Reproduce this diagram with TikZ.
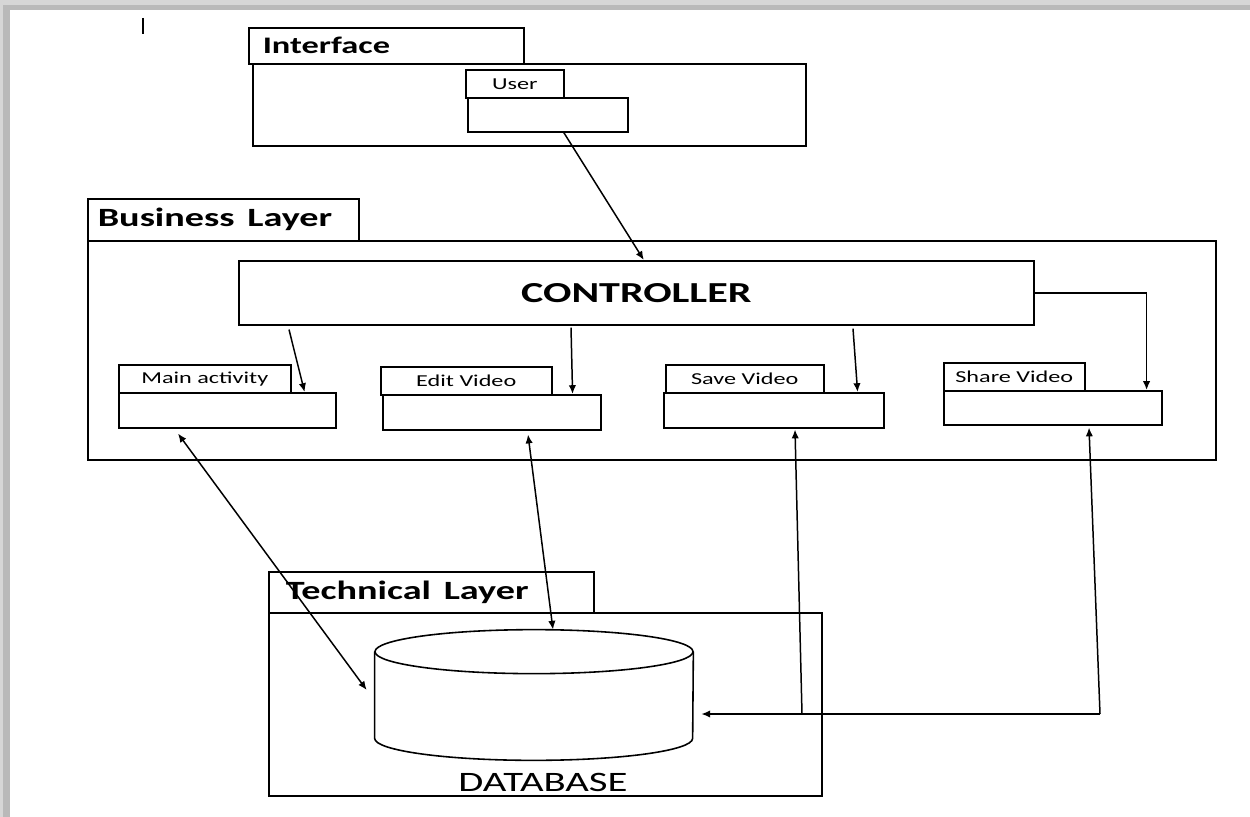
\documentclass[tikz,border=0pt]{standalone}
\usepackage{fontspec}
\setmainfont{Carlito}
\usepackage{graphicx}
\usetikzlibrary{arrows.meta,positioning}
\definecolor{edge1}{RGB}{214,214,214}
\definecolor{edge2}{RGB}{185,185,185}
\newdimen\pu \pu=0.02cm
\newcommand{\wide}[1]{\scalebox{1.45}[1]{#1}}
\tikzstyle{panel}=[draw, line width=0.9pt, anchor=north west, inner sep=0pt]
\tikzstyle{tab}=[panel, align=left, inner ysep=0pt, font=\fontsize{15}{18}\selectfont\bfseries]
\tikzstyle{subtab}=[panel, font=\fontsize{9.5}{11}\selectfont]
\tikzstyle{link}=[line width=0.85pt]
\begin{document}
\begin{tikzpicture}[>={Latex[length=5pt,width=4.2pt]}, x=0.02cm, y=-0.02cm]
    % page with its shadow
    \fill[edge1] (0,0) rectangle (1250,817);
    \fill[edge2] (3,5) rectangle (1250,817);
    \fill[white] (10,10) rectangle (1250,817);
    \useasboundingbox (0,0) rectangle (1250,817);
    \draw[line width=1.2pt] (143,18) -- (143,34);

    % interface
    \node [panel, minimum width=553\pu, minimum height=82\pu] (ifc) at (252,63) {};
    \node [tab, inner xsep=14\pu, text width=247\pu, minimum height=36\pu, font=\fontsize{13.5}{16}\selectfont\bfseries] (ifctab) at (248,27) {\wide{Interface}};
    \node [subtab, minimum width=98\pu, minimum height=28\pu] (usertab) at (465,69) {\wide{User}};
    \node [panel, minimum width=160\pu, minimum height=34\pu] (user) at (467,97) {};

    % business layer
    \node [panel, minimum width=1128\pu, minimum height=219\pu] (biz) at (87,240) {};
    \node [tab, inner xsep=10\pu, text width=251\pu, minimum height=42\pu] (biztab) at (87,198) {\wide{Business Layer}};
    \node [panel, minimum width=795\pu, minimum height=64\pu, font=\fontsize{16.5}{20}\selectfont\bfseries] (ctrl) at (238,260) {\wide{CONTROLLER}};
    \node [subtab, minimum width=172\pu, minimum height=28\pu] (maintab) at (118,364) {\wide{Main activity}};
    \node [panel, minimum width=217\pu, minimum height=35\pu] (main) at (118,392) {};
    \node [subtab, minimum width=171\pu, minimum height=28\pu] (edittab) at (380,366) {\wide{Edit Video}};
    \node [panel, minimum width=218\pu, minimum height=35\pu] (edit) at (382,394) {};
    \node [subtab, minimum width=158\pu, minimum height=28\pu] (savetab) at (665,364) {\wide{Save Video}};
    \node [panel, minimum width=220\pu, minimum height=35\pu] (save) at (663,392) {};
    \node [subtab, minimum width=141\pu, minimum height=28\pu] (sharetab) at (943,362) {\wide{Share Video}};
    \node [panel, minimum width=218\pu, minimum height=34\pu] (share) at (943,390) {};

    % technical layer
    \node [panel, minimum width=553\pu, minimum height=183\pu] (tech) at (268,612) {};
    \node [tab, inner xsep=17\pu, text width=291\pu, minimum height=41\pu] (techtab) at (268,571) {\wide{Technical Layer}};
    \node [minimum width=318\pu, minimum height=130\pu, inner sep=0pt] (db) at (534,695) {};
    \draw[line width=0.9pt] ([yshift=-22\pu]db.north) ellipse [x radius=159\pu, y radius=22\pu];
    \draw[line width=0.9pt] ([yshift=-22\pu]db.north west) -- ([yshift=22\pu]db.south west)
        arc [start angle=180, end angle=360, x radius=159\pu, y radius=22\pu] -- ([yshift=-22\pu]db.north east);
    \node [font=\fontsize{16}{19}\selectfont] (dblabel) at (543,782) {\wide{DATABASE}};

    \coordinate (jsave) at (802,714);
    \coordinate (jshare) at (1100,714);

    \draw[link,->] ([xshift=16\pu]user.south) -- ([xshift=7.5\pu]ctrl.north);
    \draw[link,->] ([xshift=51\pu,yshift=-4\pu]ctrl.south west) -- ([xshift=-32\pu]main.north east);
    \draw[link,->] ([xshift=333\pu,yshift=-2\pu]ctrl.south west) -- ([xshift=-29\pu]edit.north east);
    \draw[link,->] ([xshift=615\pu,yshift=-3\pu]ctrl.south west) -- ([xshift=-27\pu]save.north east);
    \draw[link,->] (ctrl.east) -| ([xshift=-16\pu]share.north east);
    \draw[link,<->] ([xshift=60\pu,yshift=-5\pu]main.south west) -- ([xshift=-8\pu,yshift=5\pu]db.west);
    \draw[link,<->] ([xshift=146\pu,yshift=-4\pu]edit.south west) -- ([xshift=19\pu]db.north);
    \draw[link,->] (jsave) -- ([xshift=132\pu,yshift=-1\pu]save.south west);
    \draw[link,->] (jshare) -- ([xshift=146\pu,yshift=-2\pu]share.south west);
    \draw[link,->,shorten >=8\pu] (jshare) -- (jshare -| db.east);
\end{tikzpicture}
\end{document}
